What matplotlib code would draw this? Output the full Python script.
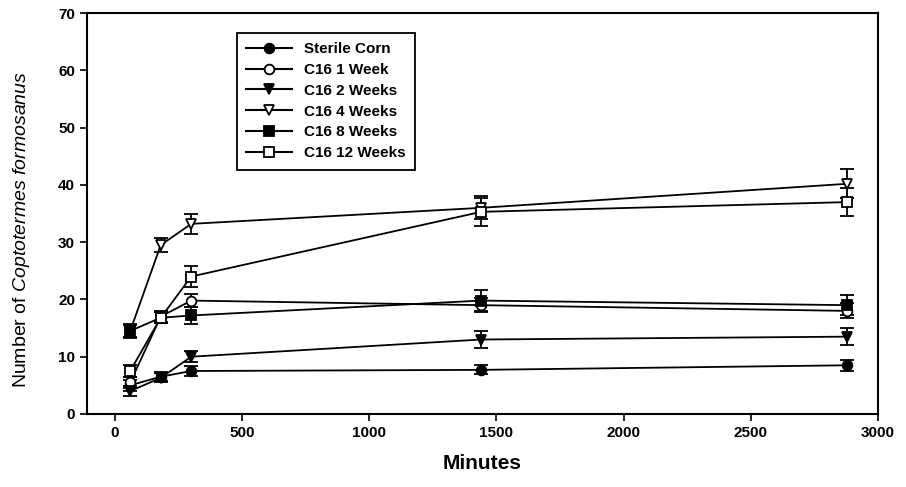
import matplotlib
matplotlib.use("Agg")
import matplotlib.pyplot as plt
from matplotlib.lines import Line2D

plt.rcParams["font.family"] = ["Liberation Sans", "DejaVu Sans"]
plt.rcParams["mathtext.fontset"] = "custom"
plt.rcParams["mathtext.it"] = "Liberation Sans:italic"
plt.rcParams["mathtext.rm"] = "Liberation Sans"

minutes = [60, 180, 300, 1440, 2880]

series_names = ["Sterile Corn", "C16 1 Week", "C16 2 Weeks",
                "C16 4 Weeks", "C16 8 Weeks", "C16 12 Weeks"]
sterile = [5.0, 6.5, 7.5, 7.7, 8.5]
c16_1wk = [5.5, 17.0, 19.8, 19.0, 18.0]
c16_2wk = [4.0, 6.3, 10.0, 13.0, 13.5]
c16_4wk = [14.5, 29.5, 33.2, 36.0, 40.2]
c16_8wk = [14.5, 16.8, 17.2, 19.8, 19.0]
c16_12wk = [7.5, 16.8, 24.0, 35.3, 37.0]

sterile_err = [1.0, 0.8, 0.8, 0.8, 1.0]
c16_1wk_err = [1.0, 1.0, 1.2, 1.2, 1.3]
c16_2wk_err = [0.8, 0.8, 1.0, 1.5, 1.5]
c16_4wk_err = [1.0, 1.2, 1.8, 2.0, 2.5]
c16_8wk_err = [1.2, 1.0, 1.5, 1.8, 1.8]
c16_12wk_err = [1.0, 1.0, 1.8, 2.5, 2.5]

values = [sterile, c16_1wk, c16_2wk, c16_4wk, c16_8wk, c16_12wk]
errors = [sterile_err, c16_1wk_err, c16_2wk_err, c16_4wk_err, c16_8wk_err, c16_12wk_err]
markers = ["o", "o", "v", "v", "s", "s"]
fills = ["black", "white", "black", "white", "black", "white"]

fig = plt.figure(figsize=(9.06, 4.87), dpi=100)
ax = fig.add_axes([0.096, 0.15, 0.873, 0.823])

handles = []
for name, y, err, m, fc in zip(series_names, values, errors, markers, fills):
    ax.errorbar(minutes, y, yerr=err, color="black", marker=m, markersize=7,
                markerfacecolor=fc, markeredgecolor="black", markeredgewidth=1.3,
                linewidth=1.3, capsize=5, capthick=1.5, elinewidth=1.3)
    handles.append(Line2D([], [], color="black", marker=m, markersize=7,
                          markerfacecolor=fc, markeredgecolor="black",
                          markeredgewidth=1.3, linewidth=1.5, label=name))

ax.set_xlim(-110, 3000)
ax.set_ylim(0, 70)
ax.set_xticks(range(0, 3001, 500))
ax.set_yticks(range(0, 71, 10))
ax.tick_params(direction="out", length=5, width=1.2, labelsize=11)
for lbl in ax.get_xticklabels() + ax.get_yticklabels():
    lbl.set_fontweight("bold")
for sp in ax.spines.values():
    sp.set_linewidth(1.5)

ax.set_xlabel("Minutes", fontsize=15, fontweight="bold", labelpad=10)
ax.set_ylabel(r"Number of $\mathit{Coptotermes\ formosanus}$", fontsize=14)
ax.yaxis.set_label_coords(-0.07, 0.46)

leg = ax.legend(handles=handles, loc="upper left", bbox_to_anchor=(0.18, 0.97),
                prop={"size": 11, "weight": "bold"},
                frameon=True, fancybox=False, edgecolor="black", handlelength=3.0,
                labelspacing=0.45, borderpad=0.6, framealpha=1)
leg.get_frame().set_linewidth(1.3)

fig.savefig("out.png", dpi=100)
